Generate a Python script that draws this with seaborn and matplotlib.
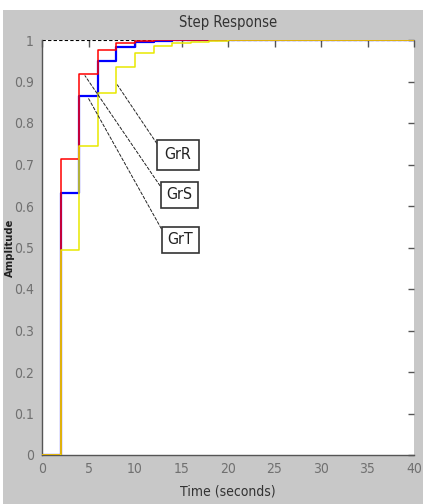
import matplotlib
matplotlib.use("Agg")
import matplotlib.pyplot as plt
import seaborn as sns
import pandas as pd
from matplotlib.patches import Rectangle

# ---- data ----
time_s = [0, 2, 4, 6, 8, 10, 12, 14, 16, 18, 20, 22, 24, 26, 28, 30, 32, 34, 36, 38, 40]
resp_red = [0, 0.713, 0.918, 0.977, 0.993, 0.998, 0.9995, 1, 1, 1, 1, 1, 1, 1, 1, 1, 1, 1, 1, 1, 1]
resp_blue = [0, 0.632, 0.865, 0.950, 0.984, 0.994, 0.998, 0.999, 1, 1, 1, 1, 1, 1, 1, 1, 1, 1, 1, 1, 1]
resp_yellow = [0, 0.494, 0.745, 0.872, 0.935, 0.968, 0.985, 0.992, 0.996, 0.998, 0.999, 1, 1, 1, 1, 1, 1, 1, 1, 1, 1]
x_ticks = [0, 5, 10, 15, 20, 25, 30, 35, 40]
y_ticks = [0, 0.1, 0.2, 0.3, 0.4, 0.5, 0.6, 0.7, 0.8, 0.9, 1]
y_tick_labels = ["0", "0.1", "0.2", "0.3", "0.4", "0.5", "0.6", "0.7", "0.8", "0.9", "1"]
labels = ["GrR", "GrS", "GrT"]
label_points = [(8.1, 0.892), (4.62, 0.914), (4.98, 0.86)]
label_boxes = [(14.62, 0.723), (14.75, 0.627), (14.87, 0.519)]
label_pads = [0.45, 0.35, 0.35]

sns.set_theme(style="white")
plt.rcParams["font.family"] = ["DejaVu Sans"]
plt.rcParams["font.stretch"] = "condensed"

fig = plt.figure(figsize=(4.23, 5.04), dpi=100)
fig.patch.set_facecolor("white")
fig.add_artist(Rectangle((3 / 423, 0), 420 / 423, 494 / 504, transform=fig.transFigure,
                         facecolor="#c8c8c8", edgecolor="none", zorder=0))
ax = fig.add_axes([42 / 423, 49 / 504, 372 / 423, 415 / 504])
ax.set_facecolor("white")

df_r = pd.DataFrame({"t": time_s, "y": resp_red})
df_b = pd.DataFrame({"t": time_s, "y": resp_blue})
df_y = pd.DataFrame({"t": time_s, "y": resp_yellow})

ax.axhline(1, color="black", ls=(0, (3, 2)), lw=0.8, zorder=1)
sns.lineplot(data=df_b, x="t", y="y", ax=ax, color="#0000ff", lw=1.6, drawstyle="steps-post", zorder=2)
sns.lineplot(data=df_r, x="t", y="y", ax=ax, color="#ff0000", lw=1.1, drawstyle="steps-post", zorder=3)
sns.lineplot(data=df_y, x="t", y="y", ax=ax, color="#e8e800", lw=1.1, drawstyle="steps-post", zorder=4)

for lab, pt, bx, pd_ in zip(labels, label_points, label_boxes, label_pads):
    ax.annotate(lab, xy=pt, xytext=bx, ha="center", va="center", fontsize=11.5, color="#222222",
                bbox=dict(boxstyle=f"square,pad={pd_}", fc="white", ec="#333333", lw=1.2),
                arrowprops=dict(arrowstyle="-", ls=(0, (3, 2)), color="#222222", lw=0.7,
                                relpos=(0, 0.5), shrinkA=0, shrinkB=0), zorder=6)

ax.set_xlim(0, 40)
ax.set_ylim(0, 1)
ax.set_xticks(x_ticks)
ax.set_xticklabels([str(v) for v in x_ticks])
ax.set_yticks(y_ticks)
ax.set_yticklabels(y_tick_labels)
for s in ["top", "right"]:
    ax.spines[s].set_visible(False)
for s in ["left", "bottom"]:
    ax.spines[s].set_color("#555555")
    ax.spines[s].set_linewidth(1.0)
ax.tick_params(axis="x", direction="in", length=5, width=1, color="#555555",
               labelsize=10, labelcolor="#707070", pad=5)
ax.tick_params(axis="y", direction="out", length=4, width=1, color="#555555",
               labelsize=10, labelcolor="#707070", pad=2)

sec_x = ax.secondary_xaxis("top")
sec_x.set_xticks(x_ticks)
sec_x.tick_params(direction="in", length=5, width=1, color="#555555", labeltop=False)
sec_x.spines["top"].set_visible(False)
sec_y = ax.secondary_yaxis("right")
sec_y.set_yticks(y_ticks)
sec_y.tick_params(direction="in", length=4, width=1, color="#555555", labelright=False)
sec_y.spines["right"].set_visible(False)

ax.set_title("Step Response", fontsize=10.5, color="#333333", pad=9)
ax.set_xlabel("Time (seconds)", fontsize=10, color="#333333", labelpad=6)
ax.set_ylabel("Amplitude", fontsize=8, color="#222222", fontweight="bold")
ax.yaxis.set_label_coords(-0.073, 0.5)

fig.savefig("out.png", dpi=100, facecolor=fig.get_facecolor())
